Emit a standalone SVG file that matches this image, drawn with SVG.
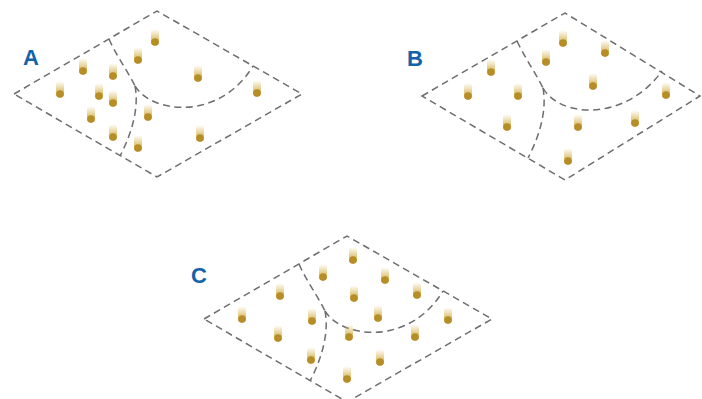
<svg xmlns="http://www.w3.org/2000/svg" xmlns:xlink="http://www.w3.org/1999/xlink" width="702" height="399" viewBox="0 0 702 399">
<style>
.edge{fill:none;stroke:#6e6e6e;stroke-width:1.5;stroke-dasharray:7 4.5}
.lbl{font-family:"Liberation Sans",Arial,sans-serif;font-weight:bold;font-size:22px;fill:#1363a8}
</style>
<defs>
<linearGradient id="pg" x1="0" y1="0" x2="0" y2="1">
<stop offset="0" stop-color="#d8b650" stop-opacity="0"/>
<stop offset="0.5" stop-color="#d4b04a" stop-opacity="0.6"/>
<stop offset="1" stop-color="#c9a138" stop-opacity="1"/>
</linearGradient>
<g id="pellet">
<rect x="-4" y="-13" width="8" height="16.5" rx="4" fill="url(#pg)"/>
<circle cx="0" cy="0" r="3.8" fill="#b78d26"/>
</g>
</defs>
<rect width="702" height="399" fill="#ffffff"/>

<g id="panelA">
<text class="lbl" x="23" y="65">A</text>
<g id="connectorsA">
<path class="edge" d="M14,94 L157,11 L302,94 L157,177 Z"/>
<path class="edge" d="M109,39 C116,55 127,70 135,86"/>
<path class="edge" d="M135,86 C152,114 220,121 253,66"/>
<path class="edge" d="M135,86 C139,106 133,131 120,156"/>
</g>
<g id="pelletsA">
<use href="#pellet" x="155" y="42"/>
<use href="#pellet" x="138" y="60"/>
<use href="#pellet" x="83" y="71"/>
<use href="#pellet" x="113" y="76"/>
<use href="#pellet" x="198" y="78"/>
<use href="#pellet" x="60" y="94"/>
<use href="#pellet" x="99" y="96"/>
<use href="#pellet" x="113" y="103"/>
<use href="#pellet" x="257" y="93"/>
<use href="#pellet" x="91" y="119"/>
<use href="#pellet" x="148" y="117"/>
<use href="#pellet" x="113" y="137"/>
<use href="#pellet" x="200" y="138"/>
<use href="#pellet" x="138" y="148"/>
</g>
</g>

<g id="panelB">
<text class="lbl" x="407" y="66">B</text>
<g id="connectorsB">
<path class="edge" d="M422,96 L565,13 L700,96 L565,180 Z"/>
<path class="edge" d="M517,41 C525,58 535,72 543,88"/>
<path class="edge" d="M543,88 C560,118 625,122 662,71"/>
<path class="edge" d="M543,88 C547,110 540,135 528,158"/>
</g>
<g id="pelletsB">
<use href="#pellet" x="563" y="43"/>
<use href="#pellet" x="605" y="53"/>
<use href="#pellet" x="546" y="62"/>
<use href="#pellet" x="491" y="72"/>
<use href="#pellet" x="593" y="86"/>
<use href="#pellet" x="468" y="96"/>
<use href="#pellet" x="518" y="96"/>
<use href="#pellet" x="666" y="95"/>
<use href="#pellet" x="507" y="127"/>
<use href="#pellet" x="578" y="127"/>
<use href="#pellet" x="635" y="123"/>
<use href="#pellet" x="568" y="161"/>
</g>
</g>

<g id="panelC">
<text class="lbl" x="191" y="283">C</text>
<g id="connectorsC">
<path class="edge" d="M204,319 L347,236 L492,319 L347,402 Z"/>
<path class="edge" d="M299,264 C306,280 317,295 325,311"/>
<path class="edge" d="M325,311 C342,339 410,346 443,291"/>
<path class="edge" d="M325,311 C329,331 323,356 310,381"/>
</g>
<g id="pelletsC">
<use href="#pellet" x="353" y="260"/>
<use href="#pellet" x="323" y="277"/>
<use href="#pellet" x="385" y="280"/>
<use href="#pellet" x="280" y="296"/>
<use href="#pellet" x="354" y="298"/>
<use href="#pellet" x="417" y="295"/>
<use href="#pellet" x="242" y="319"/>
<use href="#pellet" x="312" y="321"/>
<use href="#pellet" x="378" y="318"/>
<use href="#pellet" x="448" y="320"/>
<use href="#pellet" x="278" y="338"/>
<use href="#pellet" x="349" y="337"/>
<use href="#pellet" x="415" y="337"/>
<use href="#pellet" x="311" y="360"/>
<use href="#pellet" x="380" y="362"/>
<use href="#pellet" x="347" y="379"/>
</g>
</g>
</svg>
